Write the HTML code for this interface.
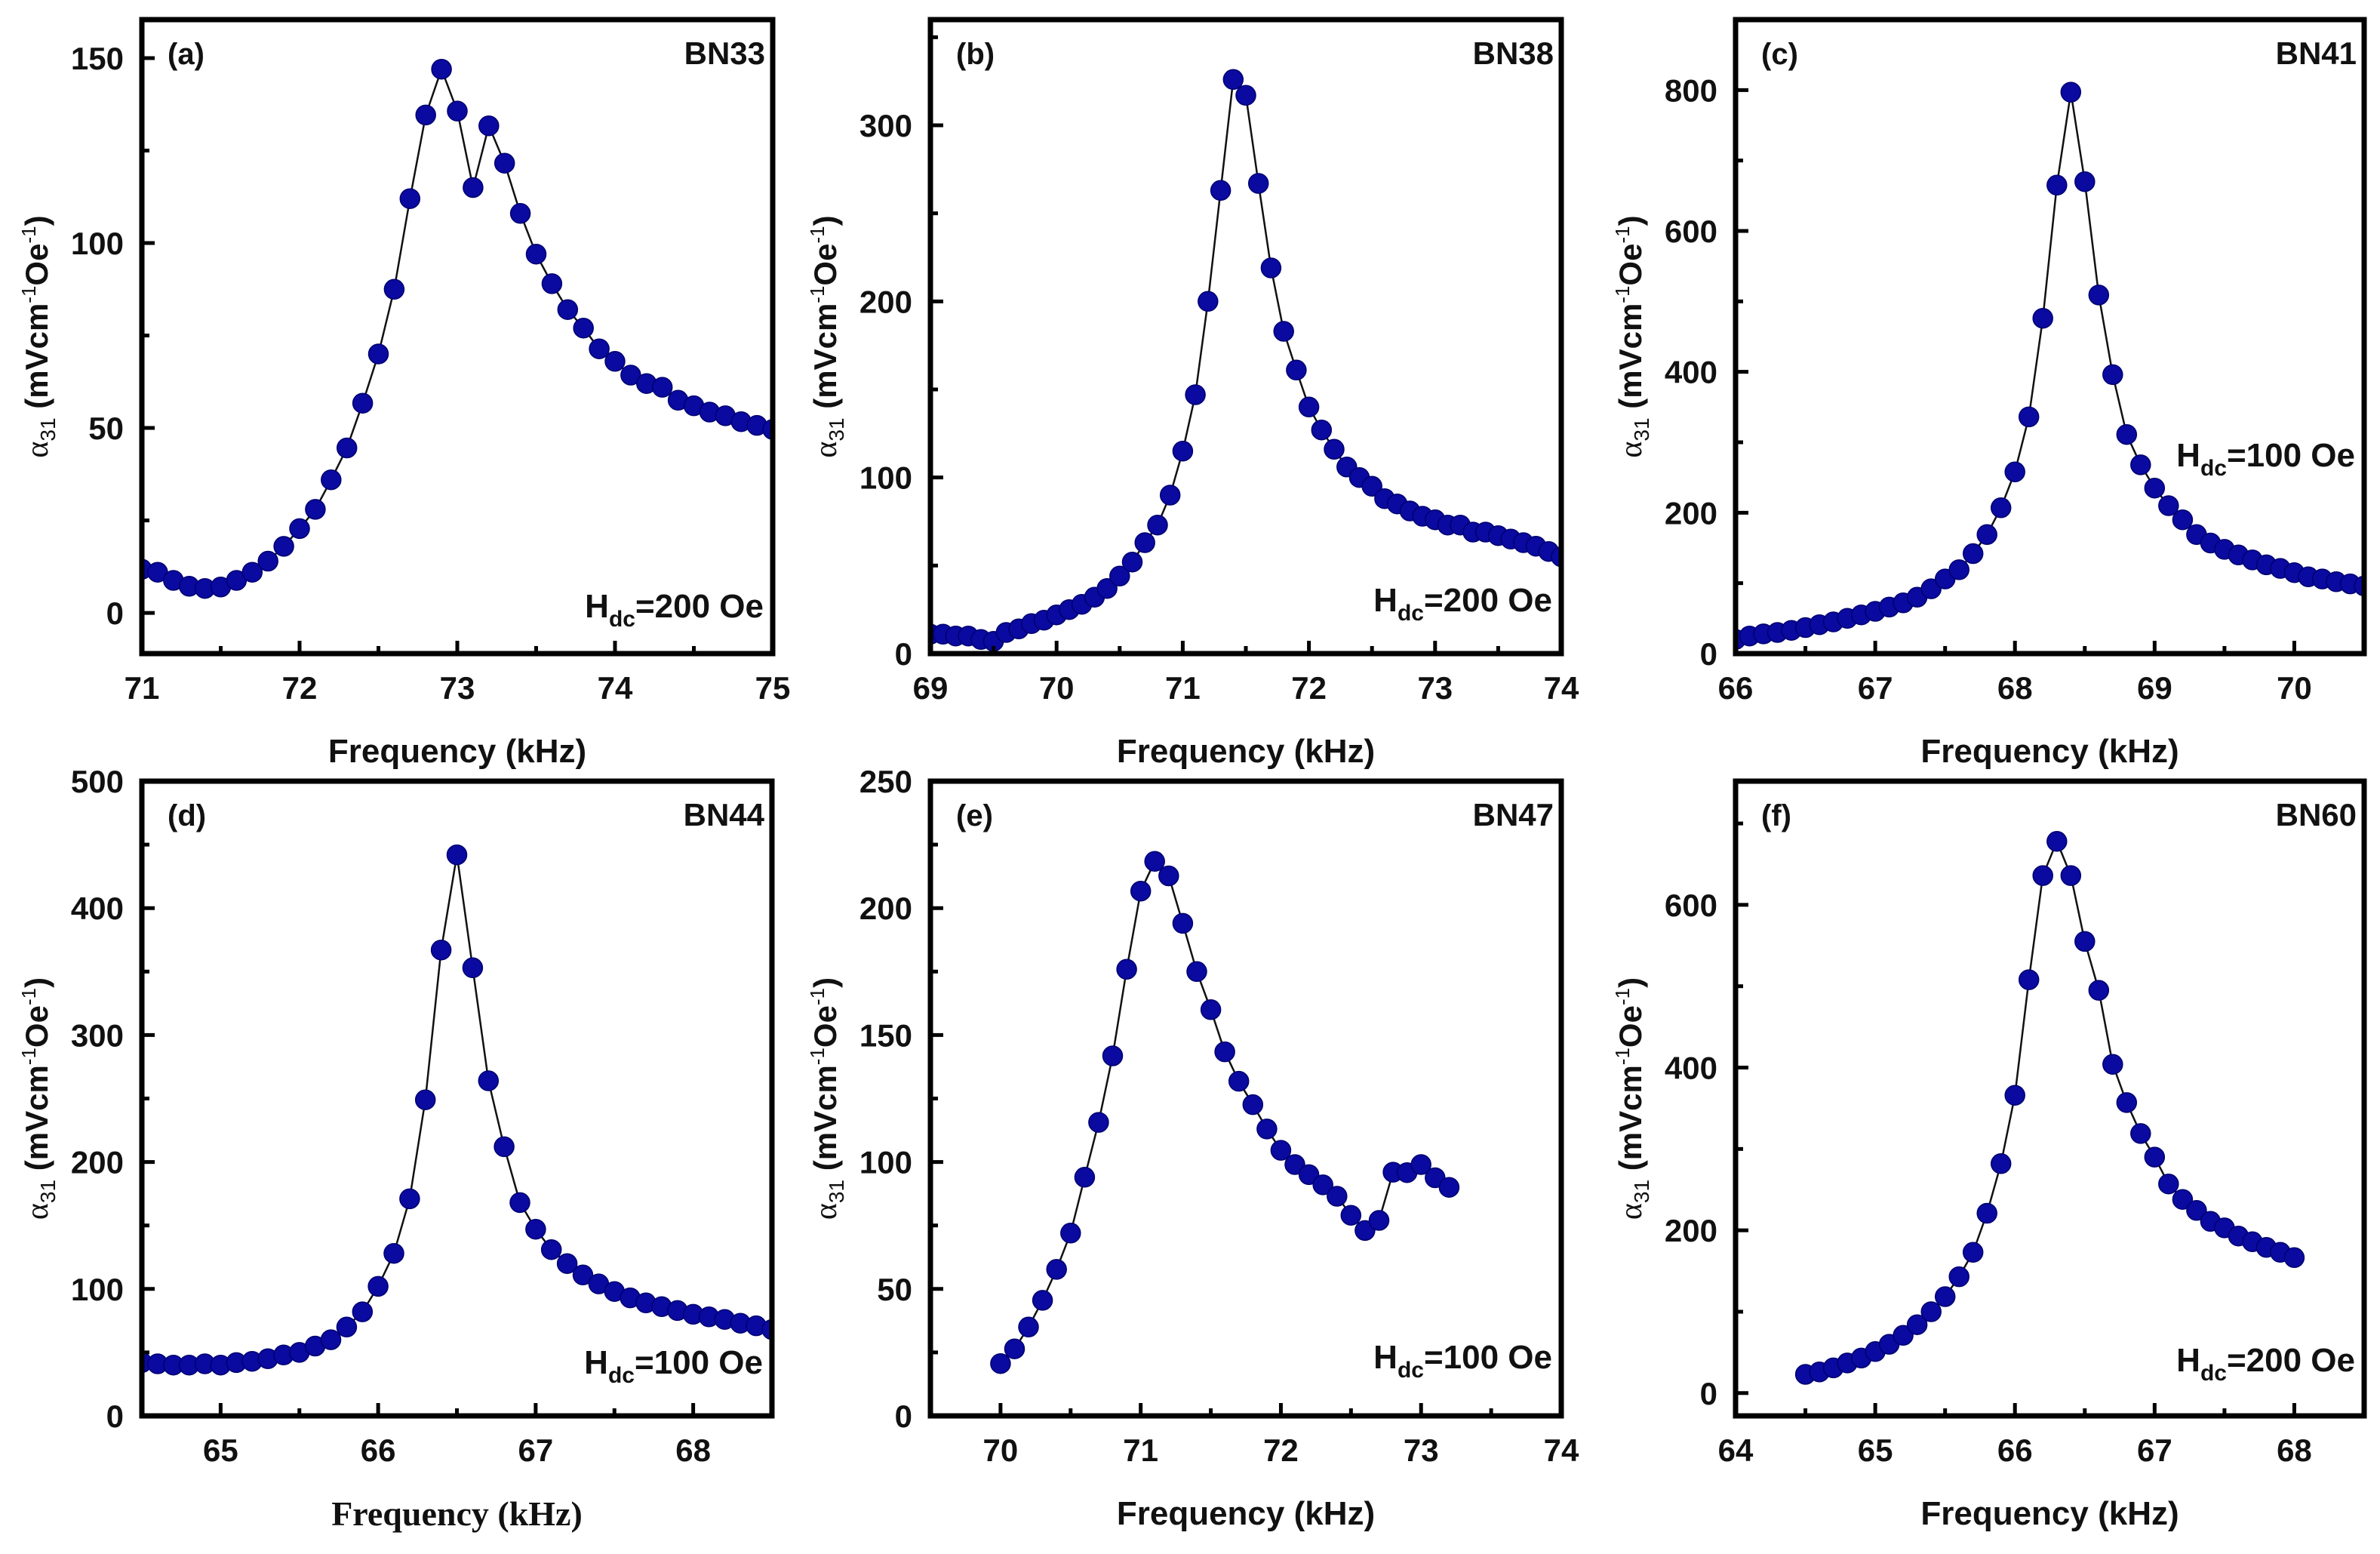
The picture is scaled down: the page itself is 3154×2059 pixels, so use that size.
<!DOCTYPE html>
<html><head><meta charset="utf-8"><style>html,body{margin:0;padding:0;background:#fff}svg{display:block}</style></head>
<body>
<svg id="fig" xmlns="http://www.w3.org/2000/svg" width="3154" height="2059" viewBox="0 0 3154 2059" font-family="Liberation Sans, Arial, sans-serif"></svg>
<script>
// ---- data (kHz, mV cm^-1 Oe^-1) ----
const freqA=[71.0,71.1,71.2,71.3,71.4,71.5,71.6,71.7,71.8,71.9,72.0,72.1,72.2,72.3,72.4,72.5,72.6,72.7,72.8,72.9,73.0,73.1,73.2,73.3,73.4,73.5,73.6,73.7,73.8,73.9,74.0,74.1,74.2,74.3,74.4,74.5,74.6,74.7,74.8,74.9,75.0];
const alphaA=[11.8,11,8.8,7.2,6.6,7,8.8,11,14,18,22.8,28,36,44.6,56.7,70,87.5,112,134.6,147,135.7,115,131.7,121.6,108,97,89,82,77,71.4,68,64.3,62,61,57.5,56,54.3,53.3,51.7,50.7,49.6];
const freqB=[69.0,69.1,69.2,69.3,69.4,69.5,69.6,69.7,69.8,69.9,70.0,70.1,70.2,70.3,70.4,70.5,70.6,70.7,70.8,70.9,71.0,71.1,71.2,71.3,71.4,71.5,71.6,71.7,71.8,71.9,72.0,72.1,72.2,72.3,72.4,72.5,72.6,72.7,72.8,72.9,73.0,73.1,73.2,73.3,73.4,73.5,73.6,73.7,73.8,73.9,74.0];
const alphaB=[11,11,10,10,8,7,12,14,17,19,22,25,28,32,37,44,52,63,73,90,115,147,200,263,326,317,267,219,183,161,140,127,116,106,100,95,88,85,81,78,76,73,73,69,69,67,65,63,61,58,55];
const freqC=[66.0,66.1,66.2,66.3,66.4,66.5,66.6,66.7,66.8,66.9,67.0,67.1,67.2,67.3,67.4,67.5,67.6,67.7,67.8,67.9,68.0,68.1,68.2,68.3,68.4,68.5,68.6,68.7,68.8,68.9,69.0,69.1,69.2,69.3,69.4,69.5,69.6,69.7,69.8,69.9,70.0,70.1,70.2,70.3,70.4,70.5];
const alphaC=[20,25,28,30,33,37,41,45,50,55,60,66,72,80,92,106,119,142,169,207,258,336,476,665,797,670,509,396,311,268,235,210,190,169,157,148,140,133,126,121,115,109,106,102,99,96];
const freqD=[64.5,64.6,64.7,64.8,64.9,65.0,65.1,65.2,65.3,65.4,65.5,65.6,65.7,65.8,65.9,66.0,66.1,66.2,66.3,66.4,66.5,66.6,66.7,66.8,66.9,67.0,67.1,67.2,67.3,67.4,67.5,67.6,67.7,67.8,67.9,68.0,68.1,68.2,68.3,68.4,68.5];
const alphaD=[42,41,40,40,41,40,42,43,45,48,50,55,60,70,82,102,128,171,249,367,442,353,264,212,168,147,131,120,111,104,98,93,89,86,83,80,78,76,73,71,68];
const freqE=[70.0,70.1,70.2,70.3,70.4,70.5,70.6,70.7,70.8,70.9,71.0,71.1,71.2,71.3,71.4,71.5,71.6,71.7,71.8,71.9,72.0,72.1,72.2,72.3,72.4,72.5,72.6,72.7,72.8,72.9,73.0,73.1,73.2];
const alphaE=[20.6,26.4,35,45.5,57.7,72,94,115.6,141.8,175.9,206.7,218.4,212.7,194,175,160,143.4,131.8,122.6,113,104.6,99,95,91,86.5,79,73,77,96,95.8,99,93.8,90];
const freqF=[64.5,64.6,64.7,64.8,64.9,65.0,65.1,65.2,65.3,65.4,65.5,65.6,65.7,65.8,65.9,66.0,66.1,66.2,66.3,66.4,66.5,66.6,66.7,66.8,66.9,67.0,67.1,67.2,67.3,67.4,67.5,67.6,67.7,67.8,67.9,68.0];
const alphaF=[23,26,31,37,43,51,60,71,84,100,118.5,143,173,221,282,366,508,636,678,636,555,495,404,357,319,290,257,238,224.5,211,203,193,186,179,173,166.5];
// tick labels
const ticksXA=[71,72,73,74,75], ticksYA=[0,50,100,150];
const ticksXB=[69,70,71,72,73,74], ticksYB=[0,100,200,300];
const ticksXC=[66,67,68,69,70], ticksYC=[0,200,400,600,800];
const ticksXD=[65,66,67,68], ticksYD=[0,100,200,300,400,500];
const ticksXE=[70,71,72,73,74], ticksYE=[0,50,100,150,200,250];
const ticksXF=[64,65,66,67,68], ticksYF=[0,200,400,600];

const NS="http://www.w3.org/2000/svg";
const svg=document.getElementById('fig');
function mk(tag,attrs,parent){const e=document.createElementNS(NS,tag);for(const k in attrs)e.setAttribute(k,attrs[k]);(parent||svg).appendChild(e);return e;}

const panels=[
 {id:'a',name:'BN33',h:'200',fx:freqA,fy:alphaA,tx:ticksXA,ty:ticksYA,xd:[71,75],yd:[-11,160.4],mx:0.5,my:25,L:188,R:1024,T:26,B:866,hy:818,serif:false},
 {id:'b',name:'BN38',h:'200',fx:freqB,fy:alphaB,tx:ticksXB,ty:ticksYB,xd:[69,74],yd:[0,360],mx:0.5,my:50,L:1233,R:2069,T:26,B:866,hy:810,serif:false},
 {id:'c',name:'BN41',h:'100',fx:freqC,fy:alphaC,tx:ticksXC,ty:ticksYC,xd:[66,70.5],yd:[0,900],mx:0.5,my:100,L:2300,R:3133,T:26,B:866,hy:618,serif:false},
 {id:'d',name:'BN44',h:'100',fx:freqD,fy:alphaD,tx:ticksXD,ty:ticksYD,xd:[64.5,68.5],yd:[0,500],mx:0.5,my:50,L:188,R:1023,T:1035,B:1876,hy:1820,serif:true},
 {id:'e',name:'BN47',h:'100',fx:freqE,fy:alphaE,tx:ticksXE,ty:ticksYE,xd:[69.5,74],yd:[0,250],mx:0.5,my:25,L:1233,R:2069,T:1035,B:1876,hy:1813,serif:false},
 {id:'f',name:'BN60',h:'200',fx:freqF,fy:alphaF,tx:ticksXF,ty:ticksYF,xd:[64,68.5],yd:[-28,752],mx:0.5,my:100,L:2300,R:3133,T:1035,B:1876,hy:1817,serif:false}
];

panels.forEach(p=>{
  const g=mk('g',{});
  
  
  const sx=v=>p.L+(v-p.xd[0])/(p.xd[1]-p.xd[0])*(p.R-p.L);
  const sy=v=>p.B-(v-p.yd[0])/(p.yd[1]-p.yd[0])*(p.B-p.T);
  const clipId='clip'+p.id;
  const cp=mk('clipPath',{id:clipId},g);
  mk('rect',{x:p.L,y:p.T,width:p.R-p.L,height:p.B-p.T},cp);
  let d='';
  p.fx.forEach((x,i)=>{d+=(i?'L':'M')+sx(x).toFixed(1)+' '+sy(p.fy[i]).toFixed(1);});
  const line=mk('path',{d:d,fill:'none',stroke:'#111',"stroke-width":2.5,"clip-path":'url(#'+clipId+')'},g);
  
  
  const mg=mk('g',{"clip-path":'url(#'+clipId+')'},g);
  p.fx.forEach((x,i)=>{
    const c=mk('circle',{cx:sx(x).toFixed(1),cy:sy(p.fy[i]).toFixed(1),r:13,fill:'#0a0aa0',stroke:'#000070',"stroke-width":1.5},mg);
    
    
  });
  const fr=mk('rect',{x:p.L,y:p.T,width:p.R-p.L,height:p.B-p.T,fill:'none',stroke:'#000',"stroke-width":7},g);
  
  
  for(let v=Math.ceil(p.xd[0]/p.mx)*p.mx; v<=p.xd[1]+1e-9; v+=p.mx){
    const major=Math.abs(v-Math.round(v))<1e-6;
    const X=sx(v);
    mk('line',{x1:X,y1:p.B,x2:X,y2:p.B-(major?17:10),stroke:'#000',"stroke-width":5},g);
  }
  p.tx.forEach(v=>{
    const t=mk('text',{x:sx(v),y:p.B+60,"font-size":42,"font-weight":'bold',"text-anchor":'middle',fill:'#111'},g);
    t.textContent=v;
    
    
  });
  for(let v=Math.ceil(p.yd[0]/p.my)*p.my; v<=p.yd[1]+1e-9; v+=p.my){
    const major=p.ty.indexOf(Math.round(v))>=0;
    const Y=sy(v);
    mk('line',{x1:p.L,y1:Y,x2:p.L+(major?17:10),y2:Y,stroke:'#000',"stroke-width":5},g);
  }
  p.ty.forEach(v=>{
    const t=mk('text',{x:p.L-24,y:sy(v)+15,"font-size":42,"font-weight":'bold',"text-anchor":'end',fill:'#111'},g);
    t.textContent=v;
    
    
  });
  const lt=mk('text',{x:p.L+34,y:p.T+59,"font-size":40,"font-weight":'bold',fill:'#111'},g);
  lt.textContent='('+p.id+')';
  
  
  const nm=mk('text',{x:p.R-10,y:p.T+59,"font-size":42,"font-weight":'bold',"text-anchor":'end',fill:'#111'},g);
  nm.textContent=p.name;
  
  
  const hd=mk('text',{x:p.R-12,y:p.hy,"font-size":44,"font-weight":'bold',"text-anchor":'end',fill:'#111'},g);
  
  
  const s1=mk('tspan',{},hd);s1.textContent='H';
  const s2=mk('tspan',{"font-size":30,dy:12},hd);s2.textContent='dc';
  const s3=mk('tspan',{dy:-12},hd);s3.textContent='='+p.h+' Oe';
  const cx=(p.L+p.R)/2;
  const xt=mk('text',{x:cx,y:p.B+(p.serif?145:144),"font-size":p.serif?46:44,"font-weight":'bold',"text-anchor":'middle',fill:'#111',"font-family":p.serif?'Liberation Serif, serif':'Liberation Sans, sans-serif'},g);
  xt.textContent='Frequency (kHz)';
  
  
  const ycx=p.L-125, ycy=(p.T+p.B)/2;
  const yt=mk('text',{x:ycx,y:ycy,"font-size":42,"font-weight":'bold',"text-anchor":'middle',fill:'#111',transform:'rotate(-90 '+ycx+' '+ycy+')'},g);
  
  
  const a1=mk('tspan',{"font-family":'Liberation Serif, serif',"font-weight":'normal'},yt);a1.textContent='α';
  const a2=mk('tspan',{"font-size":28,"font-weight":'normal',dy:10},yt);a2.textContent='31';
  const a3=mk('tspan',{dy:-10},yt);a3.textContent=' (mVcm';
  const a4=mk('tspan',{"font-size":26,dy:-16,"font-weight":'normal'},yt);a4.textContent='-1';
  const a5=mk('tspan',{dy:16},yt);a5.textContent='Oe';
  const a6=mk('tspan',{"font-size":26,dy:-16,"font-weight":'normal'},yt);a6.textContent='-1';
  const a7=mk('tspan',{dy:16},yt);a7.textContent=')';
});
</script>
</body></html>
